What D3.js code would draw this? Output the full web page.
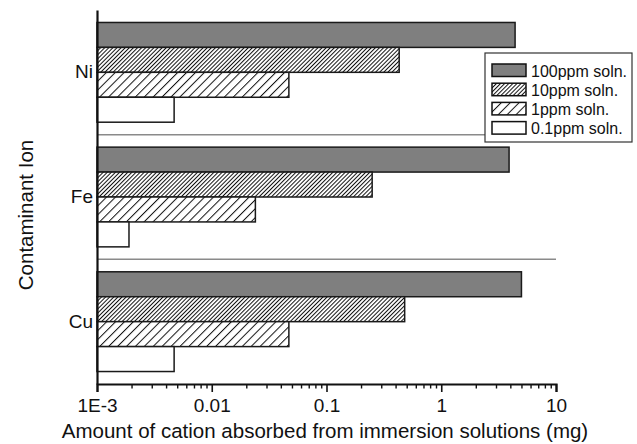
<html>
<head>
<script src="https://cdnjs.cloudflare.com/ajax/libs/d3/7.8.5/d3.min.js"></script>
<style>
  body { margin: 0; background: #fff; }
  text { font-family: "Liberation Sans", Arial, sans-serif; fill: #111; }
</style>
</head>
<body>
<svg id="plot" width="637" height="444"></svg>
<script>
  // data
  var categories = ["Ni", "Fe", "Cu"]
  var seriesNames = ["100ppm soln.", "10ppm soln.", "1ppm soln.", "0.1ppm soln."]
  var ppm100 = [4.4, 3.9, 5.0]
  var ppm10 = [0.43, 0.25, 0.48]
  var ppm1 = [0.047, 0.024, 0.047]
  var ppm01 = [0.0047, 0.0019, 0.0047]
  var tickValues = [0.001, 0.01, 0.1, 1, 10]
  var tickLabels = ["1E-3", "0.01", "0.1", "1", "10"]

  var seriesValues = [ppm100, ppm10, ppm1, ppm01]
  var fills = ["#7f7f7f", "url(#dense)", "url(#sparse)", "#fff"]

  var svg = d3.select("#plot")
  var defs = svg.append("defs")

  function hatch(id, size) {
    var p = defs.append("pattern")
      .attr("id", id)
      .attr("patternUnits", "userSpaceOnUse")
      .attr("width", size).attr("height", size)
      .attr("patternTransform", "rotate(45)")
    p.append("rect").attr("width", size).attr("height", size).attr("fill", "#fff")
    p.append("line")
      .attr("x1", 0.5).attr("y1", 0).attr("x2", 0.5).attr("y2", size)
      .attr("stroke", "#111").attr("stroke-width", 1)
  }
  hatch("dense", 2.9)
  hatch("sparse", 6.3)

  var x = d3.scaleLog().domain([0.001, 10]).range([97, 556])
  var y = d3.scaleBand().domain(categories).range([10, 384])
    .paddingInner(0.2).paddingOuter(0.1)
  var sub = d3.scaleBand().domain(seriesNames).range([0, y.bandwidth()])

  // separators between groups
  svg.selectAll("line.sep")
    .data(categories.slice(0, -1))
    .enter().append("line")
    .attr("class", "sep")
    .attr("x1", x(0.001)).attr("x2", x(10))
    .attr("y1", d => y(d) + y.bandwidth() + (y.step() - y.bandwidth()) / 2)
    .attr("y2", d => y(d) + y.bandwidth() + (y.step() - y.bandwidth()) / 2)
    .attr("stroke", "#8a8a8a").attr("stroke-width", 1.5)

  // bars
  seriesNames.forEach((name, si) => {
    svg.append("g").selectAll("rect")
      .data(categories)
      .enter().append("rect")
      .attr("x", x(0.001))
      .attr("y", d => y(d) + sub(name))
      .attr("width", (d, i) => x(seriesValues[si][i]) - x(0.001))
      .attr("height", sub.bandwidth())
      .attr("fill", fills[si])
      .attr("stroke", "#1a1a1a").attr("stroke-width", 1.5)
  })

  // x axis
  var minor = []
  for (var e = -3; e < 1; e++) {
    for (var m = 2; m < 10; m++) minor.push(m * Math.pow(10, e))
  }
  svg.append("g")
    .attr("transform", "translate(0,384)")
    .call(d3.axisBottom(x).tickValues(minor).tickSize(4.5).tickFormat(""))
    .call(g => g.select(".domain").remove())
    .call(g => g.selectAll("line").attr("stroke", "#111").attr("stroke-width", 1.4))
  var xAxis = svg.append("g")
    .attr("transform", "translate(0,384)")
    .call(d3.axisBottom(x).tickValues(tickValues).tickSize(8).tickPadding(7)
      .tickFormat((d, i) => tickLabels[i]))
  xAxis.select(".domain").attr("stroke", "#111").attr("stroke-width", 2.2)
  xAxis.selectAll("line").attr("stroke", "#111").attr("stroke-width", 1.6)
  xAxis.selectAll("text").attr("font-size", 19).attr("fill", "#111")
    .attr("font-family", "Liberation Sans, Arial, sans-serif")

  // y axis
  var yAxis = svg.append("g")
    .attr("transform", "translate(97,0)")
    .call(d3.axisLeft(y).tickSize(0).tickPadding(4))
  yAxis.select(".domain").attr("stroke", "#111").attr("stroke-width", 2.2)
  yAxis.selectAll("text").attr("font-size", 19).attr("fill", "#111")
    .attr("font-family", "Liberation Sans, Arial, sans-serif")

  // titles
  svg.append("text")
    .attr("x", 325).attr("y", 438)
    .attr("text-anchor", "middle").attr("font-size", 20.5)
    .text("Amount of cation absorbed from immersion solutions (mg)")
  svg.append("text")
    .attr("transform", "translate(33,215) rotate(-90)")
    .attr("text-anchor", "middle").attr("font-size", 20.5)
    .text("Contaminant Ion")

  // legend
  var legend = svg.append("g").attr("transform", "translate(485,53)")
  legend.append("rect")
    .attr("width", 147).attr("height", 89)
    .attr("fill", "#fff").attr("stroke", "#333").attr("stroke-width", 1.2)
  var item = legend.selectAll("g.item")
    .data(seriesNames)
    .enter().append("g")
    .attr("transform", (d, i) => "translate(7," + (11 + i * 19.2) + ")")
  item.append("rect")
    .attr("width", 34).attr("height", 12.5)
    .attr("fill", (d, i) => fills[i])
    .attr("stroke", "#111").attr("stroke-width", 1.5)
  item.append("text")
    .attr("x", 39).attr("y", 12.5)
    .attr("font-size", 16)
    .text(d => d)
</script>
</body>
</html>
